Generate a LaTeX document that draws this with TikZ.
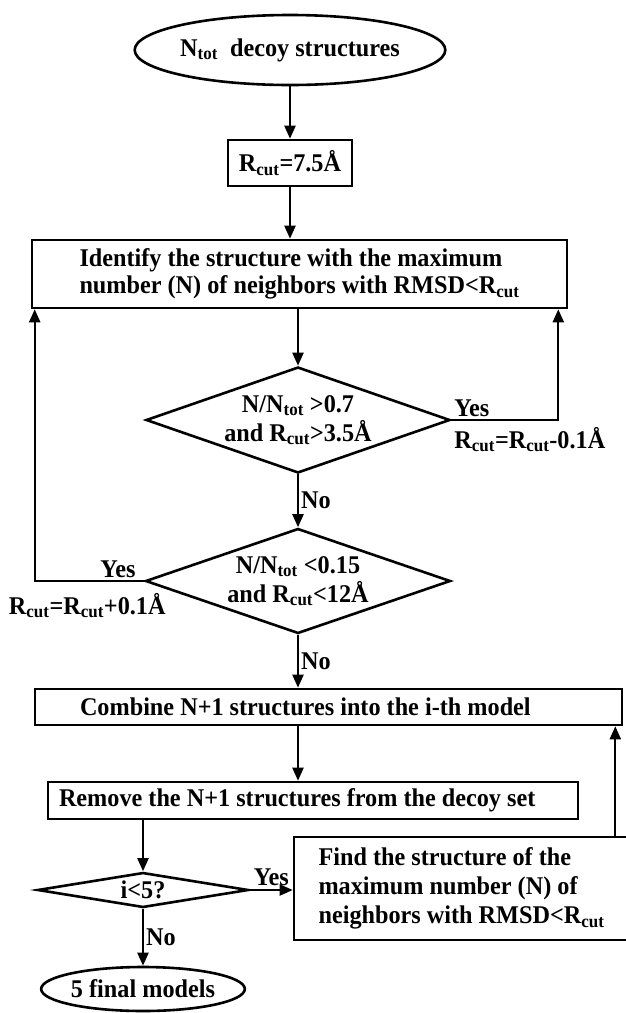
\documentclass[tikz,border=0pt]{standalone}
\usepackage{xcolor}
\usepackage{tikz}
\usetikzlibrary{shapes.geometric,arrows.meta}
\usepackage{fontspec}
\setmainfont{Liberation Serif}[FakeStretch=0.95]

\begin{document}
\begin{tikzpicture}[x=1pt, y=-1pt,
		every node/.style={font=\fontsize{25.5}{29}\selectfont\bfseries},
		box/.style={draw, rectangle, line width=2.6pt, inner ysep=0pt, align=left},
		cond/.style={draw, diamond, line width=2.6pt, inner sep=0pt, align=center},
		term/.style={draw, ellipse, line width=2.6pt, inner sep=0pt},
		arr/.style={line width=2.2pt, -{Triangle[length=13pt,width=11pt]}},
		lbl/.style={inner sep=2pt}]
		\useasboundingbox (0,0) rectangle (626,1013);

		% 起点与初始截断
		\node[term, minimum width=272pt, minimum height=70pt] (start) at (290,50) {N\textsubscript{tot}\ \ decoy structures};
		\node[box, minimum width=124pt, minimum height=46pt, inner xsep=0pt, align=center] (rcut) at (290,163) {R\textsubscript{cut}=7.5Å};
		\node[box, minimum width=535pt, minimum height=68pt, font=\fontsize{25.5}{27}\selectfont\bfseries] (ident) at (299.5,274) {Identify the structure with the maximum\\number (N) of neighbors with RMSD<R\textsubscript{cut}};

		% 两个判断
		\node[cond, minimum width=304pt, minimum height=106pt, shape aspect=2.87] (d1) at (298,420) {N/N\textsubscript{tot} >0.7\\and R\textsubscript{cut}>3.5Å};
		\node[cond, minimum width=305pt, minimum height=105pt, shape aspect=2.9] (d2) at (298,581) {N/N\textsubscript{tot} <0.15\\and R\textsubscript{cut}<12Å};

		% 合并与移除
		\node[box, minimum height=36pt, inner xsep=45pt] (comb) at (328.5,707) {\makebox[497pt][l]{Combine N+1 structures into the i-th model}};
		\node[box, minimum height=37pt, inner xsep=11pt] (remv) at (313,800.5) {\makebox[508pt][l]{Remove the N+1 structures from the decoy set}};
		\node[cond, minimum width=211pt, minimum height=35pt, shape aspect=6] (d3) at (143,890) {i<5?};
		\node[box, minimum width=335pt, minimum height=103pt] (find) at (461.5,888.5) {Find the structure of the\\maximum number (N) of\\neighbors with RMSD<R\textsubscript{cut}};
		\node[term, minimum width=188pt, minimum height=44pt] (fin) at (143,989) {5 final models};
		\coordinate (rx) at ([xshift=-8pt]comb.south east);

		% 主流程
		\draw[arr] (start) -- (rcut);
		\draw[arr] (rcut.south) -- (rcut.south |- ident.north);
		\draw[arr] (d1.north |- ident.south) -- (d1.north);
		\draw[arr] (d1) -- node[lbl, right] {No} (d2);
		\draw[arr] (d2.south) -- node[lbl, right] {No} (d2.south |- comb.north);
		\draw[arr] (comb.south -| d2.south) -- (remv.north -| d2.south);
		\draw[arr] (remv.south -| d3.north) -- (d3.north);
		\draw[arr] (d3) -- node[lbl, right] {No} (fin);

		% 回路
		\draw[arr] (d1.east) -| node[lbl, pos=0, above right] {Yes} node[lbl, pos=0, below right, yshift=-4pt] {R\textsubscript{cut}=R\textsubscript{cut}-0.1Å} ([xshift=-10pt]ident.south east);
		\draw[arr] (d2.west) -| node[lbl, pos=0.12, above] {Yes} node[lbl, pos=0.26, below, yshift=-9pt] {R\textsubscript{cut}=R\textsubscript{cut}+0.1Å} ([xshift=4pt]ident.south west);
		\draw[arr] (d3.east) -- node[lbl, pos=0, above right, inner sep=3pt] {Yes} (d3.east -| find.west);
		\draw[arr] (rx |- find.north) -- (rx);
	\end{tikzpicture}
\end{document}
